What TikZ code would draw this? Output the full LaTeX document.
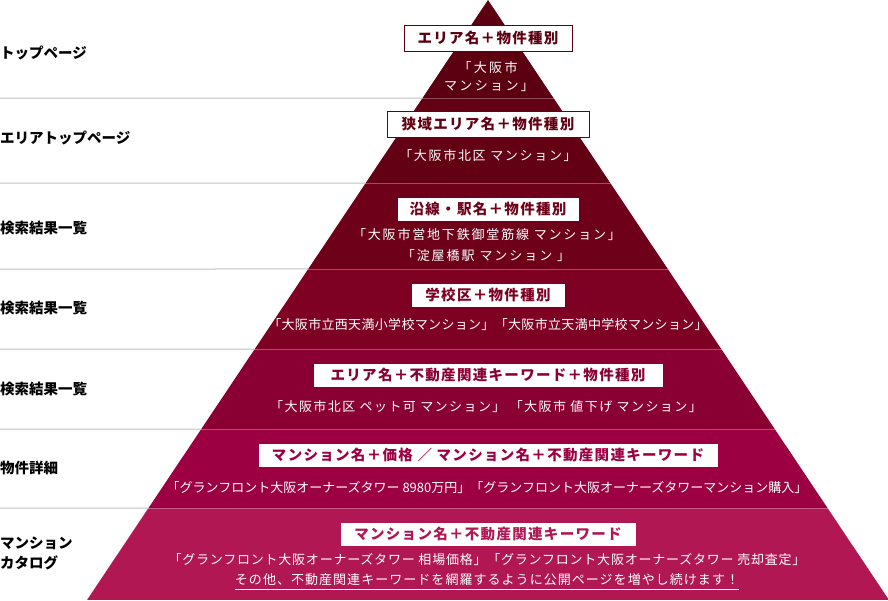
\documentclass[tikz,border=0pt]{standalone}
\usepackage{fontspec}
\setmainfont{Noto Sans CJK JP}
\newfontfamily\jpbox[LetterSpace=9]{Noto Sans CJK JP}
\usetikzlibrary{calc}
\definecolor{cA}{HTML}{5C0011}
\definecolor{cB}{HTML}{630013}
\definecolor{cC}{HTML}{6F0019}
\definecolor{cD}{HTML}{7E0023}
\definecolor{cE}{HTML}{8B0032}
\definecolor{cF}{HTML}{9D0042}
\definecolor{cG}{HTML}{B01753}
\definecolor{sepgray}{HTML}{C0C0C0}
\begin{document}
\begin{tikzpicture}[x=1pt,y=-1pt,
  lbl/.style={anchor=west,inner sep=0pt,text=black,font=\bfseries\fontsize{14.5}{16}\selectfont},
  kbox/.style={draw=#1,fill=white,text=#1,line width=1pt,inner sep=0pt,minimum height=25pt,font=\jpbox\bfseries\fontsize{14.5}{16}\selectfont},
  wtxt/.style={text=white,inner sep=0pt,font=\addfontfeature{LetterSpace=#1}\fontsize{13}{16}\selectfont},
  wtxt/.default=0,
  sepline/.style={draw=sepgray,line width=1pt},
  insep/.style={draw=white,draw opacity=0.3,line width=1pt}]
\useasboundingbox (0,0) rectangle (888,600);
\coordinate (apex) at (488,0);
\coordinate (bl) at (87,600);
\coordinate (br) at (889,600);
% bands
\begin{scope}
  \clip (apex) -- (br) -- (bl) -- cycle;
  \fill[cA] (0,0) rectangle (888,98);
  \fill[cB] (0,98) rectangle (888,183);
  \fill[cC] (0,183) rectangle (888,269);
  \fill[cD] (0,269) rectangle (888,349);
  \fill[cE] (0,349) rectangle (888,429);
  \fill[cF] (0,429) rectangle (888,508);
  \fill[cG] (0,508) rectangle (888,600);
  \foreach \y in {98,183,269,349,429,508}
    \draw[insep] (0,\y) -- (888,\y);
\end{scope}
% separators on the left
\foreach \y in {98,183,269,349,429,508}
  \draw[sepline] (0,\y) -- ($(apex)!\y/600!(bl)$);
% left labels
\node[lbl] (l1) at (0,53) {トップページ};
\node[lbl] (l2) at (0,138) {エリアトップページ};
\node[lbl] (l3) at (0,228) {検索結果一覧};
\node[lbl] (l4) at (0,308) {検索結果一覧};
\node[lbl] (l5) at (0,389) {検索結果一覧};
\node[lbl] (l6) at (0,468) {物件詳細};
\node[lbl] (l7a) at (0,543) {マンション};
\node[lbl] (l7b) at (0,563) {カタログ};
% keyword boxes
\node[kbox=cA,minimum width=168pt,minimum height=26pt] (k1) at (488,38) {エリア名＋物件種別};
\node[kbox=cB,minimum width=202pt,minimum height=26pt] (k2) at (488,124) {狭域エリア名＋物件種別};
\node[kbox=cC,minimum width=182pt,minimum height=24pt] (k3) at (488,209) {沿線・駅名＋物件種別};
\node[kbox=cD,minimum width=154pt,minimum height=24pt] (k4) at (488,295) {学校区＋物件種別};
\node[kbox=cE,minimum width=350pt,minimum height=24pt] (k5) at (488,375) {エリア名＋不動産関連キーワード＋物件種別};
\node[kbox=cF,minimum width=460pt,minimum height=24pt] (k6) at (488,455) {マンション名＋価格 ／ マンション名＋不動産関連キーワード};
\node[kbox=cG,minimum width=296pt,minimum height=24pt] (k7) at (488,534) {マンション名＋不動産関連キーワード};
% examples
\node[wtxt=18] (e1a) at (488,68) {「大阪市};
\node[wtxt=18] (e1b) at (489,86) {マンション」};
\node[wtxt=13] (e2) at (488,156) {「大阪市北区 マンション」};
\node[wtxt=14] (e3a) at (487,235) {「大阪市営地下鉄御堂筋線 マンション」};
\node[wtxt=15] (e3b) at (486,256) {「淀屋橋駅 マンション 」};
\node[wtxt=2.5] (e4) at (488,325) {「大阪市立西天満小学校マンション」「大阪市立天満中学校マンション」};
\node[wtxt=11] (e5) at (486,407) {「大阪市北区 ペット可 マンション」 「大阪市 値下げ マンション」};
\node[wtxt] (e6) at (487,488) {「グランフロント大阪オーナーズタワー 8980万円」「グランフロント大阪オーナーズタワーマンション購入」};
\node[wtxt=6] (e7a) at (487,560) {「グランフロント大阪オーナーズタワー 相場価格」「グランフロント大阪オーナーズタワー 売却査定」};
\node[wtxt=8] (e7b) at (487,580) {その他、不動産関連キーワードを網羅するように公開ページを増やし続けます！};
\draw[white,line width=0.8pt] ([yshift=-3pt]e7b.south west) -- ([yshift=-3pt]e7b.south east);
\end{tikzpicture}
\end{document}
